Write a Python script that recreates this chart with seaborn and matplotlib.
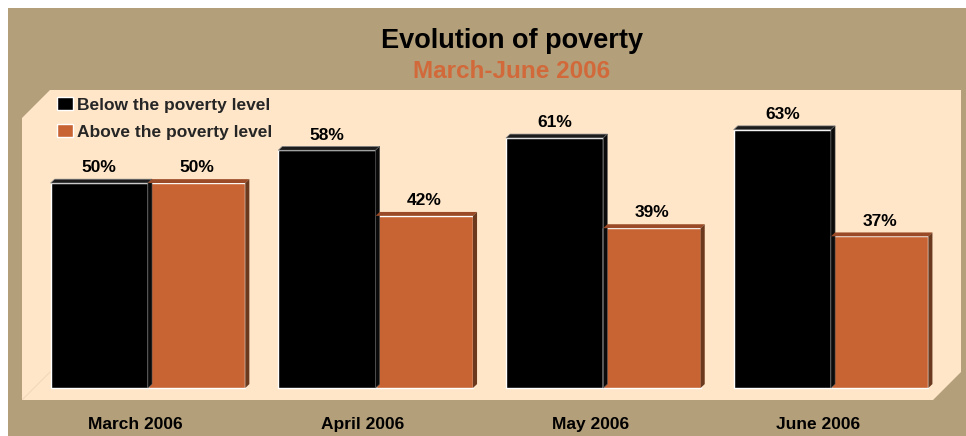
import numpy as np
import pandas as pd
import matplotlib
matplotlib.use("Agg")
import matplotlib.pyplot as plt
import matplotlib.transforms as mtransforms
from matplotlib.patches import Polygon, Rectangle, Patch
import seaborn as sns

months = ["March 2006", "April 2006", "May 2006", "June 2006"]
below = [50, 58, 61, 63]
above = [50, 42, 39, 37]
series = ["Below the poverty level", "Above the poverty level"]

TAN = "#B39F7A"
CREAM = "#FFE6C8"
ORANGE = "#C86434"
BLACK = "#000000"

sns.set_theme(style="white")
plt.rcParams["font.family"] = ["Liberation Sans", "DejaVu Sans"]
plt.rcParams["font.weight"] = "bold"

df = pd.DataFrame({
    "month": months * 2,
    "share": below + above,
    "level": [series[0]] * len(months) + [series[1]] * len(months),
})

fig = plt.figure(figsize=(9.66, 4.36), dpi=100)
fig.patch.set_facecolor("white")
fig.add_artist(Rectangle((8 / 966, 0), 1 - 8 / 966, 428 / 436,
                         transform=fig.transFigure, facecolor=TAN,
                         edgecolor="none", zorder=0))

ax = fig.add_axes([22 / 966, 36 / 436, 939 / 966, 310 / 436])
ax.set_facecolor(CREAM)

sns.barplot(data=df, x="month", y="share", hue="level", order=months,
            hue_order=series, palette=[BLACK, ORANGE], width=0.855,
            saturation=1, legend=False, ax=ax)

ax.set_xlim(-0.553, 3.571)
ax.set_ylim(-2.93, 72.7)

# 3D look: top and right faces of each bar
dx, dy = 0.018, 0.95
bars = list(ax.patches)
for i, p in enumerate(bars):
    x0 = p.get_x()
    x1 = x0 + p.get_width()
    h = p.get_height()
    is_black = i < len(months)
    top_c = "#1c1c1c" if is_black else "#9A4A26"
    side_c = "#0a0a0a" if is_black else "#6B3A1E"
    ax.add_patch(Polygon([(x0, h), (x0 + dx, h + dy), (x1 + dx, h + dy), (x1, h)],
                         closed=True, facecolor=top_c,
                         edgecolor="#8a8a8a" if is_black else "none",
                         lw=0.5, zorder=3))
    ax.add_patch(Polygon([(x1, 0), (x1 + dx, dy), (x1 + dx, h + dy), (x1, h)],
                         closed=True, facecolor=side_c,
                         edgecolor="#5a5a5a" if is_black else "none",
                         lw=0.4, zorder=3))
    ax.annotate(f"{h:.0f}%", (x0 + p.get_width() / 2, h), xytext=(0, 5.5),
                textcoords="offset points", ha="center", va="bottom",
                fontsize=12.5, fontweight="bold", color="black")

# cut corners of the wall/floor
ax.add_patch(Polygon([(0, 1), (0.0298, 1), (0, 1 - 0.0903)], closed=True,
                     transform=ax.transAxes, facecolor=TAN, edgecolor="none",
                     zorder=5, clip_on=False))
ax.add_patch(Polygon([(1, 0), (1, 0.0903), (1 - 0.0298, 0)], closed=True,
                     transform=ax.transAxes, facecolor=TAN, edgecolor="none",
                     zorder=5, clip_on=False))
ax.plot([0, 0.0298], [0, 0.0903], transform=ax.transAxes, color="#F3D9BC",
        lw=0.8, zorder=1)

for s in ax.spines.values():
    s.set_visible(False)
ax.set_yticks([])
ax.set_xlabel("")
ax.set_ylabel("")
ax.tick_params(axis="x", length=0, pad=12, labelsize=12.5)
offset = mtransforms.ScaledTranslation(-13 / 100, 0, fig.dpi_scale_trans)
for lab in ax.get_xticklabels():
    lab.set_fontweight("bold")
    lab.set_color("black")
    lab.set_transform(lab.get_transform() + offset)

handles = [Patch(facecolor=BLACK), Patch(facecolor=ORANGE)]
leg = ax.legend(handles, series, loc="upper left",
                bbox_to_anchor=(35 / 939, 1 - 7 / 310), frameon=False,
                borderpad=0, borderaxespad=0, handlelength=0.95,
                handleheight=0.8, handletextpad=0.2, labelspacing=0.65,
                prop={"size": 12.5, "weight": "bold"})
leg.set_zorder(6)

fig.text(512 / 966, 1 - 41 / 436, "Evolution of poverty", ha="center",
         va="center", fontsize=19.5, fontweight="bold", color="black")
fig.text(512 / 966, 1 - 72 / 436, "March-June 2006", ha="center",
         va="center", fontsize=17.5, fontweight="bold", color="#D2693A")

fig.savefig("out.png", dpi=100, facecolor=fig.get_facecolor())
